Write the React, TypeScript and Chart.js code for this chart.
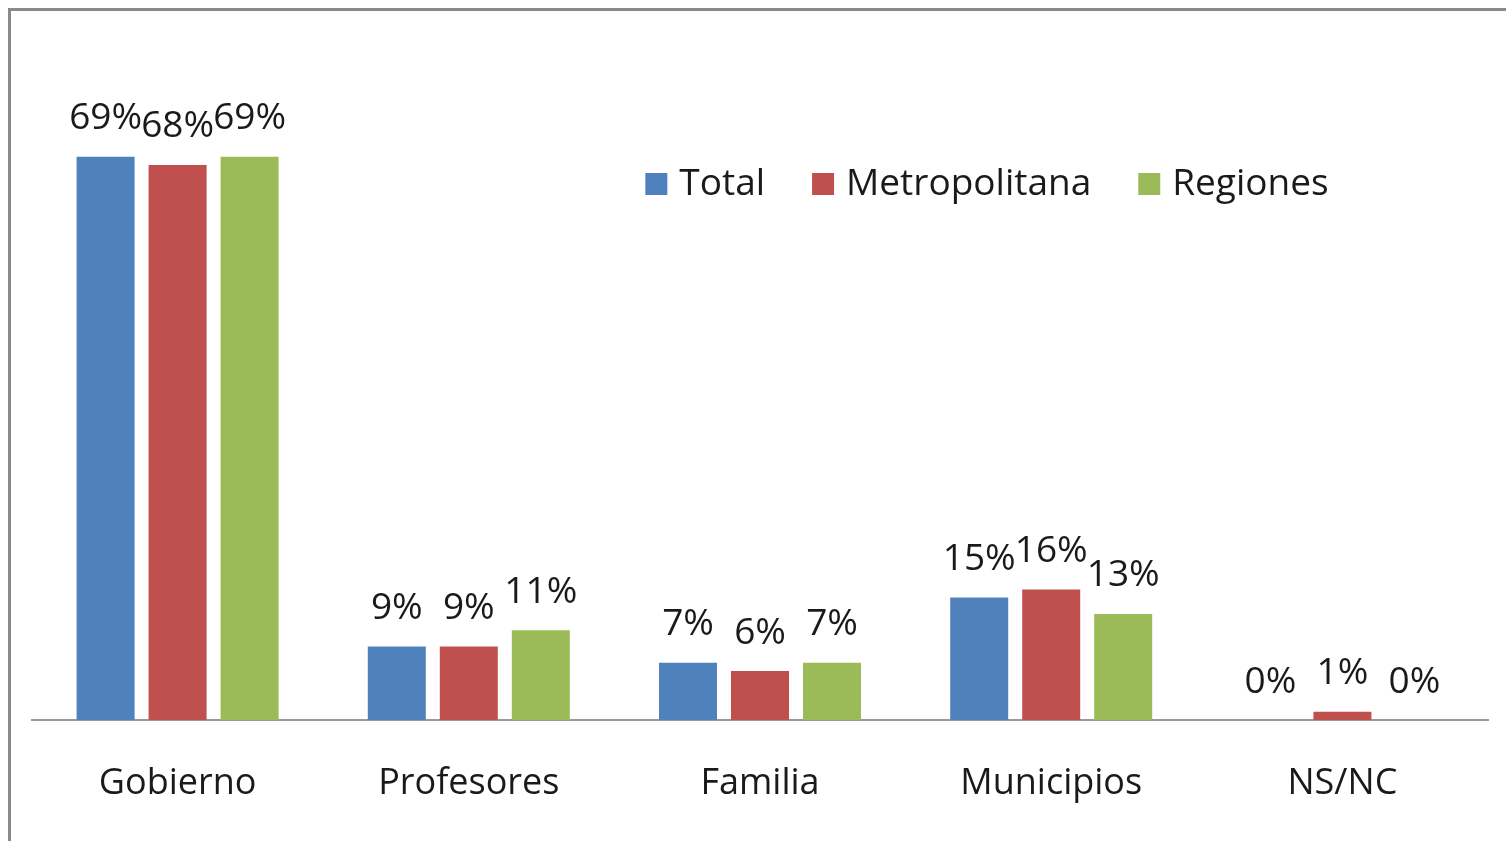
import React, { useEffect, useRef } from "react";
import { Chart, registerables } from "chart.js";

Chart.register(...registerables);

const categories = ["Gobierno", "Profesores", "Familia", "Municipios", "NS/NC"];
const seriesNames = ["Total", "Metropolitana", "Regiones"];
const totalValues = [69, 9, 7, 15, 0];
const metroValues = [68, 9, 6, 16, 1];
const regionValues = [69, 11, 7, 13, 0];
const seriesColors = ["#4F81BD", "#C0504D", "#9BBB59"];

const FONT = "'Open Sans', 'DejaVu Sans', sans-serif";

const labelsPlugin = {
  id: "valueLabels",
  afterDatasetsDraw(chart: any) {
    const ctx = chart.ctx;
    ctx.save();
    ctx.font = `37px ${FONT}`;
    ctx.fillStyle = "#1a1a1a";
    ctx.textAlign = "center";
    ctx.textBaseline = "middle";
    chart.data.datasets.forEach((ds: any, di: number) => {
      const meta = chart.getDatasetMeta(di);
      meta.data.forEach((bar: any, i: number) => {
        ctx.fillText(ds.data[i] + "%", bar.x, bar.y - 38);
      });
    });
    ctx.restore();
  },
};

const legendPlugin = {
  id: "customLegend",
  afterDraw(chart: any) {
    const ctx = chart.ctx;
    ctx.save();
    ctx.font = `37px ${FONT}`;
    ctx.textBaseline = "middle";
    ctx.textAlign = "left";
    const box = 22;
    const gapText = 12;
    const gapItem = 47;
    const items = chart.data.datasets.map((ds: any) => ({
      label: ds.label,
      color: ds.backgroundColor,
      w: ctx.measureText(ds.label).width,
    }));
    const total = items.reduce((s: number, it: any) => s + box + gapText + it.w, 0) + gapItem * (items.length - 1);
    let x = 987 - total / 2;
    const cy = 184;
    items.forEach((it: any) => {
      ctx.fillStyle = it.color;
      ctx.fillRect(x, cy - box / 2, box, box);
      ctx.fillStyle = "#1a1a1a";
      ctx.fillText(it.label, x + box + gapText, cy);
      x += box + gapText + it.w + gapItem;
    });
    ctx.restore();
  },
};

export default function App() {
  const canvasRef = useRef<HTMLCanvasElement | null>(null);

  useEffect(() => {
    if (!canvasRef.current) return;
    const values = [totalValues, metroValues, regionValues];
    const chart = new Chart(canvasRef.current, {
      type: "bar",
      data: {
        labels: categories,
        datasets: seriesNames.map((name, i) => ({
          label: name,
          data: values[i],
          backgroundColor: seriesColors[i],
          borderWidth: 0,
          categoryPercentage: 216 / 291.2,
          barPercentage: 58 / 72,
        })),
      },
      options: {
        responsive: true,
        maintainAspectRatio: false,
        animation: false,
        layout: { padding: { top: 67, left: 32, right: 18, bottom: 0 } },
        plugins: {
          legend: { display: false },
          tooltip: { enabled: false },
        },
        scales: {
          y: {
            display: false,
            min: 0,
            max: 80,
          },
          x: {
            grid: { display: false, drawTicks: false },
            border: { display: true, color: "#9a9a9a", width: 2 },
            ticks: {
              color: "#1a1a1a",
              font: { family: FONT, size: 36 },
              padding: 42,
              maxRotation: 0,
            },
            afterFit(scale: any) {
              scale.height = 121;
            },
          },
        },
      },
      plugins: [labelsPlugin, legendPlugin],
    });
    return () => chart.destroy();
  }, []);

  return (
    <div style={{ position: "absolute", left: 0, top: 0, width: 1506, height: 841, background: "#fff" }}>
      <div
        style={{
          position: "absolute",
          left: 8,
          top: 8,
          width: 1498,
          height: 833,
          borderLeft: "3px solid #8a8a8a",
          borderTop: "3px solid #8a8a8a",
          boxSizing: "border-box",
        }}
      />
      <canvas ref={canvasRef} style={{ position: "absolute", left: 0, top: 0 }} width={1506} height={841} />
    </div>
  );
}
